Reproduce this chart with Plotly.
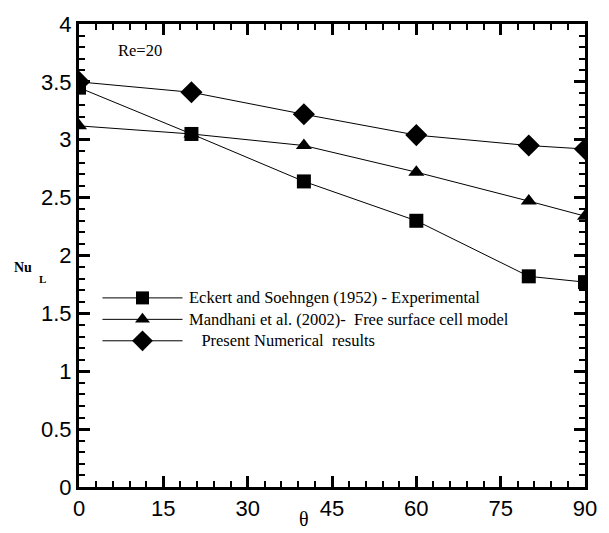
import plotly.graph_objects as go

# Local Nusselt number vs. angular position, Re = 20
theta = [0, 20, 40, 60, 80, 90]
nu_eckert = [3.45, 3.05, 2.64, 2.30, 1.82, 1.77]
nu_mandhani = [3.12, 3.05, 2.95, 2.72, 2.47, 2.34]
nu_present = [3.50, 3.41, 3.22, 3.04, 2.95, 2.92]

series_names = [
    "Eckert and Soehngen (1952) - Experimental",
    "Mandhani et al. (2002)-&nbsp; Free surface cell model",
    "&nbsp;&nbsp; Present Numerical&nbsp; results",
]
series_symbols = ["square", "triangle-up", "diamond"]
series_sizes = [14, 14, 17]

W, H = 609, 533
L, R, T, B = 79, 12, 15, 43

fig = go.Figure()

for ys, name, sym, sz in zip([nu_eckert, nu_mandhani, nu_present],
                             series_names, series_symbols, series_sizes):
    fig.add_trace(go.Scatter(
        x=theta, y=ys, mode="lines+markers", showlegend=False,
        line=dict(color="black", width=1),
        marker=dict(symbol=sym, size=sz, color="black"),
    ))

# Hand-drawn legend on a pixel-scaled overlay axis
key_y = [296, 318, 340]
key_x0, key_x1, key_xm = 103, 185, 144
text_x = 190
for yk, name, sym, sz in zip(key_y, series_names, series_symbols, [13, 13, 16]):
    fig.add_trace(go.Scatter(
        x=[key_x0, key_xm, key_x1], y=[yk, yk, yk], mode="lines",
        xaxis="x2", yaxis="y2", showlegend=False, hoverinfo="skip",
        line=dict(color="black", width=1),
    ))
    fig.add_trace(go.Scatter(
        x=[key_xm], y=[yk], mode="markers", xaxis="x2", yaxis="y2",
        showlegend=False, hoverinfo="skip",
        marker=dict(symbol=sym, size=sz, color="black"),
    ))
    fig.add_annotation(
        x=text_x, y=yk, xref="x2", yref="y2", text=name, showarrow=False,
        xanchor="left", yanchor="middle",
        font=dict(family="Liberation Serif", size=16.5, color="black"),
    )

axis_common = dict(
    showline=True, linewidth=3, linecolor="black", mirror="allticks",
    ticks="inside", ticklen=11, tickwidth=2.5, tickcolor="black",
    showgrid=False, zeroline=False,
    tickfont=dict(family="Liberation Sans", size=22, color="black"),
)

fig.update_layout(
    width=W, height=H,
    margin=dict(l=L, r=R, t=T, b=B),
    paper_bgcolor="white", plot_bgcolor="white",
    xaxis=dict(range=[0, 90], tick0=0, dtick=15,
               minor=dict(dtick=3, ticks="inside", ticklen=6, tickwidth=1.5,
                          tickcolor="black", showgrid=False),
               **axis_common),
    yaxis=dict(range=[0, 4], tick0=0, dtick=0.5,
               minor=dict(dtick=0.1, ticks="inside", ticklen=6, tickwidth=1.5,
                          tickcolor="black", showgrid=False),
               **axis_common),
    xaxis2=dict(overlaying="x", range=[L, W - R], visible=False),
    yaxis2=dict(overlaying="y", range=[H - B, T], visible=False),
)

# Reynolds number label
fig.add_annotation(
    x=117, y=42, xref="x2", yref="y2", text="Re=20", showarrow=False,
    xanchor="left", yanchor="middle",
    font=dict(family="Liberation Serif", size=16.5, color="black"),
)

# Axis titles, placed in paper coordinates outside the plot area
def px_to_paper(px, py):
    return (px - L) / (W - L - R), (H - B - py) / (H - B - T)

nx, ny = px_to_paper(22, 265)
fig.add_annotation(
    x=nx, y=ny, xref="paper", yref="paper", text="<b>Nu</b>", showarrow=False,
    xanchor="center", yanchor="middle",
    font=dict(family="Liberation Serif", size=14, color="black"),
)
lx, ly = px_to_paper(42, 277)
fig.add_annotation(
    x=lx, y=ly, xref="paper", yref="paper", text="<b>L</b>", showarrow=False,
    xanchor="center", yanchor="middle",
    font=dict(family="Liberation Serif", size=11, color="black"),
)
tx, ty = px_to_paper(309, 523)
fig.add_annotation(
    x=tx, y=ty, xref="paper", yref="paper", text="θ", showarrow=False,
    xanchor="center", yanchor="middle",
    font=dict(family="Liberation Serif", size=20, color="black"),
)

fig.write_html("out.html")
